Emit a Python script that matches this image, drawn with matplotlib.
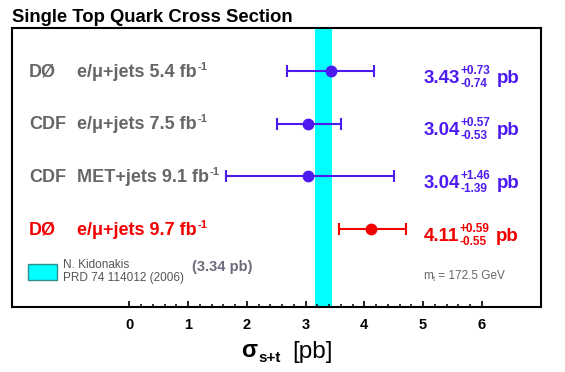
import matplotlib
matplotlib.use('Agg')
import matplotlib.pyplot as plt
from matplotlib.ticker import FixedLocator
from matplotlib.patches import Rectangle
import numpy as np

plt.rcParams['font.family'] = ['Liberation Sans', 'DejaVu Sans']

# ---------------- data ----------------
experiments = ['DØ', 'CDF', 'CDF', 'DØ']
channels = ['e/μ+jets 5.4 fb', 'e/μ+jets 7.5 fb', 'MET+jets 9.1 fb', 'e/μ+jets 9.7 fb']
lumi_sup = '-1'
xsec = [3.43, 3.04, 3.04, 4.11]
err_up = [0.73, 0.57, 1.46, 0.59]
err_dn = [0.74, 0.53, 1.39, 0.55]
val_text = ['3.43', '3.04', '3.04', '4.11']
up_text = ['+0.73', '+0.57', '+1.46', '+0.59']
dn_text = ['-0.74', '-0.53', '-1.39', '-0.55']
theory_low, theory_high = 3.16, 3.45
theory_label = '(3.34 pb)'
theory_ref = ['N. Kidonakis', 'PRD 74 114012 (2006)']
xticks = [0, 1, 2, 3, 4, 5, 6]
minor_ticks = [round(0.2 * i, 1) for i in range(31)]

# ---------------- style ----------------
BLUE = '#4d1af0'
RED = '#f20000'
GRAY = '#666666'
row_colors = [BLUE, BLUE, BLUE, RED]
label_colors = [GRAY, GRAY, GRAY, RED]

W, H = 565, 372
fig = plt.figure(figsize=(W / 100, H / 100), dpi=100)
ax = fig.add_axes([12.3 / W, 1 - 306.7 / H, 528.4 / W, 278.4 / H])
rows = np.arange(len(xsec))

ax.set_xlim(-1.99, 7.0)
ax.set_ylim(4.47, -0.81)

ax.axvspan(theory_low, theory_high, color='#00ffff', zorder=1, lw=0)

for i in rows:
    ax.errorbar([xsec[i]], [rows[i]], xerr=[[err_dn[i]], [err_up[i]]], fmt='o',
                color=row_colors[i], ms=7.5, elinewidth=1.5, capsize=4, capthick=1.5,
                zorder=3)

ax.set_yticks([])
ax.xaxis.set_major_locator(FixedLocator(xticks))
ax.xaxis.set_minor_locator(FixedLocator(minor_ticks))
ax.set_xticklabels([str(t) for t in xticks], fontsize=10.5, fontweight='bold')
ax.tick_params(axis='x', which='major', direction='in', length=4, width=1.2, pad=8)
ax.tick_params(axis='x', which='minor', direction='in', length=2.3, width=1.1)
for sp in ax.spines.values():
    sp.set_linewidth(1.5)

fig.canvas.draw()
renderer = fig.canvas.get_renderer()


def put(x, y, s, size, weight='normal', color='k', family=None):
    kw = {}
    if family is not None:
        kw['family'] = family
    t = fig.text(x / W, 1 - y / H, s, fontsize=size, fontweight=weight, color=color,
                 va='baseline', ha='left', **kw)
    bb = t.get_window_extent(renderer)
    return bb.x1


# title
put(12, 22.5, 'Single Top Quark Cross Section', 13.3, 'bold', 'black')

for i in rows:
    ypix = H - ax.transData.transform((0, rows[i]))[1]
    # left labels
    put(29, ypix + 5.5, experiments[i], 13, 'bold', label_colors[i])
    xe = put(77, ypix + 5.5, channels[i], 13, 'bold', label_colors[i])
    put(xe + 0.5, ypix - 1.5, lumi_sup, 8, 'bold', label_colors[i])
    # right values
    xm = put(424, ypix + 11.5, val_text[i], 13.5, 'bold', row_colors[i])
    xs1 = put(xm + 0.5, ypix + 2.5, up_text[i], 8.5, 'bold', row_colors[i])
    xs2 = put(xm + 0.5, ypix + 15.5, dn_text[i], 8.5, 'bold', row_colors[i])
    put(max(xs1, xs2) + 6, ypix + 11.5, 'pb', 13.5, 'bold', row_colors[i])

# theory legend
fig.add_artist(Rectangle((27.5 / W, 1 - 279.5 / H), 29 / W, 16 / H,
                         transform=fig.transFigure, facecolor='#00ffff',
                         edgecolor='#2f8f8f', lw=1))
put(63, 268.5, theory_ref[0], 8.5, 'normal', '#555555')
put(63, 280.5, theory_ref[1], 8.5, 'normal', '#555555')
put(192, 271, theory_label, 10.5, 'bold', '#6b6b7b')

# top mass
xm = put(423, 279, 'm', 8.5, 'normal', '#666666')
xm = put(xm, 281, 't', 5.5, 'normal', '#666666')
put(xm, 279, ' = 172.5 GeV', 8.5, 'normal', '#666666')

# x label
xs = put(241.5, 357, 'σ', 17, 'bold', 'black')
put(xs + 0.5, 362, 's+t', 11, 'bold', 'black')
put(292, 358, '[pb]', 17.5, 'normal', 'black')

fig.savefig('out.png', dpi=100)
